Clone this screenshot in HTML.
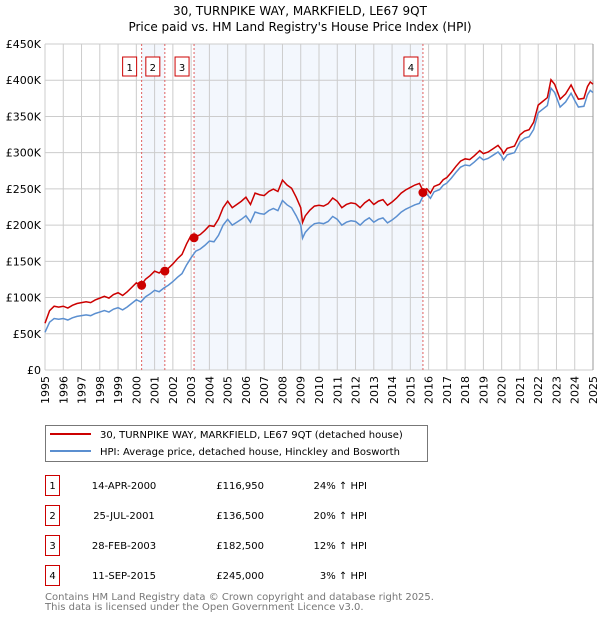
<!DOCTYPE html>
<html><head><meta charset="utf-8"><style>
body{margin:0;background:#fff;}
svg{display:block;font-family:"DejaVu Sans","Liberation Sans",sans-serif;}
</style></head><body>
<svg id="c" width="600" height="620" xmlns="http://www.w3.org/2000/svg">
<text x="300" y="15" text-anchor="middle" font-size="12">30, TURNPIKE WAY, MARKFIELD, LE67 9QT</text>
<text x="300" y="31" text-anchor="middle" font-size="12">Price paid vs. HM Land Registry's House Price Index (HPI)</text>
<g id="plot"></g>
<rect x="45.5" y="425.5" width="382" height="36" fill="#fff" stroke="#777"/>
<line x1="50" y1="434" x2="91" y2="434" stroke="#cc0000" stroke-width="2"/>
<text x="100" y="438" font-size="10">30, TURNPIKE WAY, MARKFIELD, LE67 9QT (detached house)</text>
<line x1="50" y1="451" x2="91" y2="451" stroke="#5b8fd0" stroke-width="2"/>
<text x="100" y="455" font-size="10">HPI: Average price, detached house, Hinckley and Bosworth</text>
<g id="tbl" font-size="10"></g>
<text x="45" y="600" font-size="10" fill="#777">Contains HM Land Registry data © Crown copyright and database right 2025.</text>
<text x="45" y="610" font-size="10" fill="#777">This data is licensed under the Open Government Licence v3.0.</text>
</svg>
<script>
const hpiYears=[1995,1995.25,1995.5,1995.75,1996,1996.25,1996.5,1996.75,1997,1997.25,1997.5,1997.75,1998,1998.25,1998.5,1998.75,1999,1999.25,1999.5,1999.75,2000,2000.25,2000.5,2000.75,2001,2001.25,2001.5,2001.75,2002,2002.25,2002.5,2002.75,2003,2003.25,2003.5,2003.75,2004,2004.25,2004.5,2004.75,2005,2005.25,2005.5,2005.75,2006,2006.25,2006.5,2006.75,2007,2007.25,2007.5,2007.75,2008,2008.25,2008.5,2008.75,2009,2009.1,2009.25,2009.5,2009.75,2010,2010.25,2010.5,2010.75,2011,2011.25,2011.5,2011.75,2012,2012.25,2012.5,2012.75,2013,2013.25,2013.5,2013.75,2014,2014.25,2014.5,2014.75,2015,2015.25,2015.5,2015.7,2015.9,2016.1,2016.3,2016.6,2016.8,2017,2017.25,2017.5,2017.75,2018,2018.25,2018.5,2018.8,2019,2019.25,2019.5,2019.8,2020,2020.1,2020.3,2020.7,2021,2021.25,2021.5,2021.75,2022,2022.25,2022.5,2022.7,2022.9,2023.2,2023.5,2023.8,2024,2024.2,2024.5,2024.7,2024.85,2025];
const hpiValues=[52,66,71,70,71,69,72,74,75,76,75,78,80,82,80,84,86,83,87,92,97,94,101,105,110,108,113,117,122,128,133,145,155,164,167,172,178,177,186,200,208,200,204,208,213,204,218,216,215,220,223,220,234,228,224,213,200,182,190,197,202,203,202,205,212,208,200,204,206,205,200,206,210,204,208,210,203,207,212,218,222,225,228,230,240,243,237,246,249,255,258,265,273,280,283,282,287,294,290,292,296,301,295,290,297,300,315,320,322,332,355,360,365,389,383,363,370,382,372,363,364,380,386,383];
const saleYears=[2000.29,2001.56,2003.16,2015.69];
const salePrices=[116.95,136.5,182.5,245];
const saleRatios=[1.24,1.20,1.12,1.03];
const saleLabels=["1","2","3","4"];
const saleDates=["14-APR-2000","25-JUL-2001","28-FEB-2003","11-SEP-2015"];
const salePriceText=["£116,950","£136,500","£182,500","£245,000"];
const saleHpiText=["24% ↑ HPI","20% ↑ HPI","12% ↑ HPI","3% ↑ HPI"];
const yTicks=[0,50,100,150,200,250,300,350,400,450];
const yTickLabels=["£0","£50K","£100K","£150K","£200K","£250K","£300K","£350K","£400K","£450K"];
const xTicks=[1995,1996,1997,1998,1999,2000,2001,2002,2003,2004,2005,2006,2007,2008,2009,2010,2011,2012,2013,2014,2015,2016,2017,2018,2019,2020,2021,2022,2023,2024,2025];

const X0=45,X1=593,Y0=370,Y1=44;
const x=v=>X0+(v-1995)/30*(X1-X0);
const y=v=>Y0-v/450*(Y0-Y1);
const NS="http://www.w3.org/2000/svg";
const plot=document.getElementById('plot');
function mk(tag,attrs,parent){const e=document.createElementNS(NS,tag);for(const k in attrs)e.setAttribute(k,attrs[k]);(parent||plot).appendChild(e);return e;}

let e;
e=mk('rect',{x:X0,y:Y1,width:X1-X0,height:Y0-Y1,fill:'#fff'});


[[0,1],[2,3]].forEach(p=>{
  e=mk('rect',{x:x(saleYears[p[0]]),y:Y1,width:x(saleYears[p[1]])-x(saleYears[p[0]]),height:Y0-Y1,fill:'#eef3fc',opacity:0.7});
  
  
});
yTicks.forEach((t,i)=>{
  e=mk('line',{x1:X0,x2:X1,y1:y(t),y2:y(t),stroke:'#ccc','stroke-width':1});
  
  
  e=mk('text',{x:X0-4,y:y(t)+4,'text-anchor':'end','font-size':11});
  e.textContent=yTickLabels[i];
  
  
});
xTicks.forEach(t=>{
  e=mk('line',{x1:x(t),x2:x(t),y1:Y1,y2:Y0,stroke:'#ccc','stroke-width':1});
  
  
  e=mk('text',{x:0,y:0,'text-anchor':'end','font-size':11,transform:`translate(${x(t)+4},${Y0+6}) rotate(-90)`});
  e.textContent=t;
  
  
});
mk('line',{x1:X1,x2:X1,y1:Y1,y2:Y0,stroke:'#999'});
saleYears.forEach((s,i)=>{
  e=mk('line',{x1:x(s),x2:x(s),y1:Y1,y2:Y0,stroke:'#e06060','stroke-dasharray':'2,2','stroke-width':1});
  
  
  e=mk('rect',{x:x(s)-19,y:57,width:14,height:19,fill:'#fff',stroke:'#cc0000'});
  
  
  e=mk('text',{x:x(s)-12,y:71,'text-anchor':'middle','font-size':10});
  e.textContent=saleLabels[i];
  
  
});
e=mk('polyline',{points:hpiYears.map((t,i)=>x(t)+','+y(hpiValues[i])).join(' '),fill:'none',stroke:'#5b8fd0','stroke-width':1.5});


// property line: HPI indexed from most recent sale (first sale before it)
function ratio(t){let r=saleRatios[0];for(let i=0;i<saleYears.length;i++){if(t>=saleYears[i])r=saleRatios[i];}return r;}
e=mk('polyline',{points:hpiYears.map((t,i)=>x(t)+','+y(hpiValues[i]*ratio(t))).join(' '),fill:'none',stroke:'#cc0000','stroke-width':1.5});


saleYears.forEach((s,i)=>{
  e=mk('circle',{cx:x(s),cy:y(salePrices[i]),r:4.5,fill:'#cc0000'});
  
  
});
const tbl=document.getElementById('tbl');
saleLabels.forEach((l,i)=>{
  const ry=475+i*30;
  e=mk('rect',{x:45.5,y:ry+0.5,width:14,height:20,fill:'#fff',stroke:'#cc0000'},tbl);
  
  
  e=mk('text',{x:52.5,y:ry+14,'text-anchor':'middle'},tbl);e.textContent=l;
  
  
  e=mk('text',{x:124,y:ry+14,'text-anchor':'middle'},tbl);e.textContent=saleDates[i];
  
  
  e=mk('text',{x:264,y:ry+14,'text-anchor':'end'},tbl);e.textContent=salePriceText[i];
  
  
  e=mk('text',{x:367,y:ry+14,'text-anchor':'end'},tbl);e.textContent=saleHpiText[i];
  
  
});
</script>
</body></html>
